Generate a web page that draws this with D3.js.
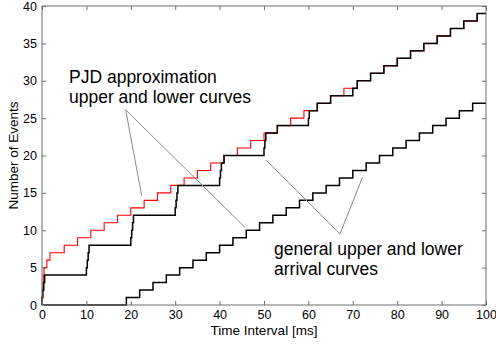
<!DOCTYPE html>
<html>
<head>
<meta charset="utf-8">
<script src="https://cdn.jsdelivr.net/npm/d3@7"></script>
<style>
  body { margin: 0; background: #fff; }
  svg { font-family: "Liberation Sans", Arial, sans-serif; }
</style>
</head>
<body>
<div id="chart"></div>
<script>
// step times (ms) at which each curve reaches 1, 2, 3, ... events
const pjdUpperSteps = [0, 0.1, 0.2, 0.3, 0.45, 1.1, 1.8, 5, 8, 11, 14, 17, 20, 23, 26, 29, 32, 35, 38, 41,
    44, 47, 50, 53, 56, 59, 62, 65, 68, 71, 74, 77, 80, 83, 86, 89, 92, 95, 98];
const generalUpperSteps = [0, 0.2, 0.4, 0.6, 10, 10.2, 10.4, 10.6, 20, 20.2, 20.4, 20.6, 30, 30.2, 30.4, 30.6,
    40, 40.2, 40.4, 41, 50, 50.2, 50.4, 53, 60, 60.2, 62, 65, 70, 71, 74, 77, 80, 83, 86, 89, 92, 95, 98];
const lowerSteps = [19, 22, 25, 28, 31, 34, 37, 40, 43, 46, 49, 52, 55, 58, 61, 64, 67, 70, 73, 76, 79,
    82, 85, 88, 91, 94, 97];

const xTicks = [0, 10, 20, 30, 40, 50, 60, 70, 80, 90, 100];
const yTicks = [0, 5, 10, 15, 20, 25, 30, 35, 40];

const width = 496, height = 345;
const margin = { left: 42, right: 10, top: 6, bottom: 40 };

const svg = d3.select('#chart').append('svg')
    .attr('width', width)
    .attr('height', height);

const x = d3.scaleLinear().domain([0, 100]).range([margin.left, width - margin.right]);
const y = d3.scaleLinear().domain([0, 40]).range([height - margin.bottom, margin.top]);

// turn a list of step times into points for a step-after line
function toPoints(steps) {
    const pts = [[0, 0]];
    steps.forEach((t, i) => pts.push([t, i + 1]));
    pts.push([100, steps.length]);
    return pts;
}

const line = d3.line()
    .x(d => x(d[0]))
    .y(d => y(d[1]))
    .curve(d3.curveStepAfter);

// red PJD curve first (a bit thinner), black curves on top hide it where they coincide
svg.append('path')
    .attr('d', line(toPoints(pjdUpperSteps)))
    .attr('fill', 'none')
    .attr('stroke', '#ff0000')
    .attr('stroke-width', 1.1);

[generalUpperSteps, lowerSteps].forEach(steps => {
    svg.append('path')
        .attr('d', line(toPoints(steps)))
        .attr('fill', 'none')
        .attr('stroke', '#000')
        .attr('stroke-width', 1.5);
});

// axes box with inward ticks
const axisColor = '#6e6e6e';
const gBottom = svg.append('g')
    .attr('transform', `translate(0,${y(0)})`)
    .call(d3.axisBottom(x).tickValues(xTicks).tickSize(-4).tickPadding(5));
const gTop = svg.append('g')
    .attr('transform', `translate(0,${y(40)})`)
    .call(d3.axisTop(x).tickValues(xTicks).tickSize(-4).tickFormat(''));
const gLeft = svg.append('g')
    .attr('transform', `translate(${x(0)},0)`)
    .call(d3.axisLeft(y).tickValues(yTicks).tickSize(-4).tickPadding(5));
const gRight = svg.append('g')
    .attr('transform', `translate(${x(100)},0)`)
    .call(d3.axisRight(y).tickValues(yTicks).tickSize(-4).tickFormat(''));

[gBottom, gTop, gLeft, gRight].forEach(g => {
    g.select('.domain').remove();
    g.selectAll('.tick line').attr('stroke', axisColor);
    g.selectAll('.tick text')
        .attr('fill', '#000')
        .style('font-size', '12.5px');
});

svg.append('rect')
    .attr('x', x(0))
    .attr('y', y(40))
    .attr('width', x(100) - x(0))
    .attr('height', y(0) - y(40))
    .attr('fill', 'none')
    .attr('stroke', axisColor)
    .attr('stroke-width', 1);

// axis titles
svg.append('text')
    .attr('x', (x(0) + x(100)) / 2)
    .attr('y', height - 10)
    .attr('text-anchor', 'middle')
    .style('font-size', '13.5px')
    .text('Time Interval [ms]');

svg.append('text')
    .attr('transform', `translate(18,${(y(0) + y(40)) / 2}) rotate(-90)`)
    .attr('text-anchor', 'middle')
    .style('font-size', '13.5px')
    .text('Number of Events');

// annotations
const annColor = '#8a8a8a';
const ann = svg.append('g')
    .attr('stroke', annColor)
    .attr('stroke-width', 1)
    .attr('fill', 'none');

ann.append('path')
    .attr('d', `M${x(22.45)},${y(14.6)} L${x(18.85)},${y(26.1)} L${x(45.7)},${y(10.4)}`);
ann.append('path')
    .attr('d', `M${x(50.45)},${y(19.4)} L${x(67.1)},${y(9.5)} L${x(72.2)},${y(17.1)}`);

const labelSize = '17.5px';
svg.append('text').attr('x', 69).attr('y', 83).style('font-size', labelSize).text('PJD approximation');
svg.append('text').attr('x', 69).attr('y', 103).style('font-size', labelSize).text('upper and lower curves');
svg.append('text').attr('x', 274).attr('y', 255).style('font-size', labelSize).text('general upper and lower');
svg.append('text').attr('x', 274).attr('y', 275).style('font-size', labelSize).text('arrival curves');
</script>
</body>
</html>
